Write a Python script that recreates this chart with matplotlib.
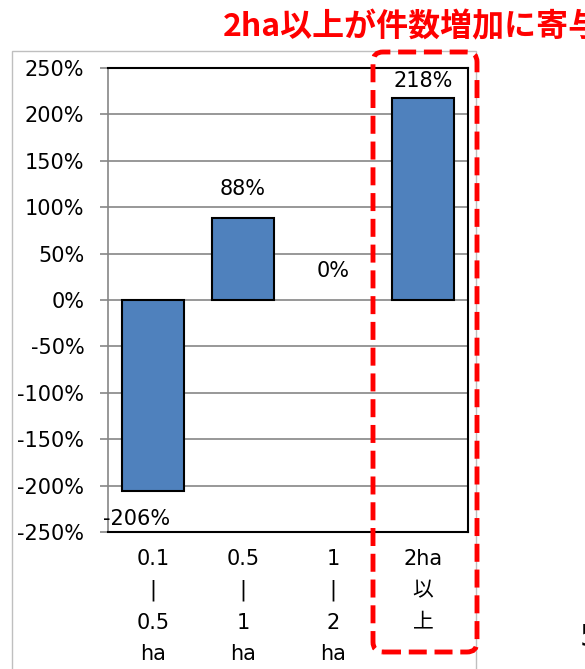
import matplotlib
matplotlib.use("Agg")
import matplotlib.pyplot as plt
from matplotlib.patches import FancyBboxPatch, Rectangle
from matplotlib.transforms import IdentityTransform
from matplotlib.ticker import FuncFormatter

categories = ["0.1\n|\n0.5\nha", "0.5\n|\n1\nha", "1\n|\n2\nha", "2ha\n以\n上"]
values = [-206, 88, 0, 218]
yticks = [-250, -200, -150, -100, -50, 0, 50, 100, 150, 200, 250]
title = "2ha以上が件数増加に寄与"

fonts = ["DejaVu Sans", "Noto Sans CJK JP"]
plt.rcParams["font.family"] = fonts

W, H = 585, 669
fig = plt.figure(figsize=(W / 100, H / 100), dpi=100)

# outer chart frame (light grey)
fig.patches.append(Rectangle((12, -10), 464, H - 51 + 10, transform=IdentityTransform(),
                             fill=False, edgecolor="#BFBFBF", linewidth=1, zorder=0))

ax = fig.add_axes([108 / W, 1 - 532 / H, 360 / W, 464 / H])
x = list(range(len(categories)))
edge_w = [1.5 if v != 0 else 0 for v in values]
bars = ax.bar(x, values, width=0.68, color="#4F81BD", edgecolor="black",
              linewidth=edge_w, zorder=3)

ax.set_xlim(-0.5, 3.5)
ax.set_ylim(-250, 250)
ax.set_yticks(yticks)
ax.yaxis.set_major_formatter(FuncFormatter(lambda v, p: f"{v:.0f}%"))
ax.yaxis.grid(True, color="#868686", linewidth=1.2, zorder=1)
ax.tick_params(axis="y", length=6, width=1.2, color="#868686", pad=11,
               labelsize=15, labelcolor="black")
ax.set_xticks(x)
ax.set_xticklabels(categories, fontsize=15, linespacing=1.7)
ax.tick_params(axis="x", length=0, pad=12)

for s in ["top", "right", "bottom"]:
    ax.spines[s].set_color("black")
    ax.spines[s].set_linewidth(1.5)
ax.spines["left"].set_color("#868686")
ax.spines["left"].set_linewidth(1.2)

for xi, v in zip(x, values):
    if v < 0:
        ax.annotate(f"{v}%", (xi, v), xytext=(-12, -13), textcoords="offset points",
                    ha="center", va="top", fontsize=15)
    elif v > 200:
        ax.annotate(f"{v}%", (xi, v), xytext=(0, 5), textcoords="offset points",
                    ha="center", va="bottom", fontsize=15)
    else:
        ax.annotate(f"{v}%", (xi, v), xytext=(0, 14), textcoords="offset points",
                    ha="center", va="bottom", fontsize=15)

# red dashed highlight box
box = FancyBboxPatch((373, H - 652), 477 - 373, 652 - 52,
                     boxstyle="round,pad=0,rounding_size=10",
                     transform=IdentityTransform(), fill=False,
                     edgecolor="#FF0000", linewidth=3.5,
                     linestyle=(0, (3.7, 1.6)), zorder=5)
fig.patches.append(box)

fig.text(223 / W, 1 - 27 / H, title, color="#FF0000", fontsize=23,
         fontweight="bold", ha="left", va="center", family=["Noto Sans CJK JP"])
fig.text(580 / W, 1 - 638 / H, "5", fontsize=22, ha="left", va="center")

fig.savefig("out.png", dpi=100)
